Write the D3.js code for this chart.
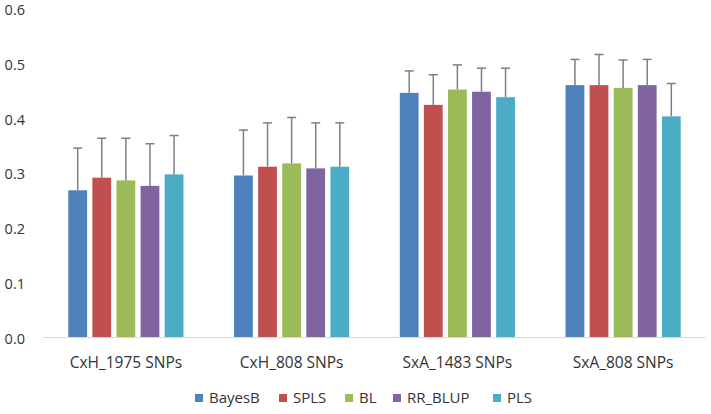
<!DOCTYPE html>
<html><head><meta charset="utf-8">
<script src="https://cdn.jsdelivr.net/npm/d3@7"></script>
<style>body{margin:0;background:#fff}svg{display:block}text{font-family:"Open Sans",sans-serif;fill:#333}</style>
</head><body><svg id="c" width="711" height="414"></svg>
<script>
const categories = ["CxH_1975 SNPs","CxH_808 SNPs","SxA_1483 SNPs","SxA_808 SNPs"];
const seriesNames = ["BayesB","SPLS","BL","RR_BLUP","PLS"];
const colors = ["#4F81BD","#C0504D","#9BBB59","#8064A2","#4BACC6"];
const BayesB = [0.268,0.295,0.446,0.460];
const SPLS   = [0.291,0.311,0.424,0.460];
const BL     = [0.286,0.317,0.452,0.455];
const RR_BLUP= [0.276,0.308,0.448,0.460];
const PLS    = [0.297,0.311,0.438,0.403];
const BayesB_err = [0.077,0.083,0.040,0.047];
const SPLS_err   = [0.072,0.080,0.055,0.056];
const BL_err     = [0.077,0.084,0.045,0.051];
const RR_BLUP_err= [0.077,0.083,0.043,0.047];
const PLS_err    = [0.071,0.080,0.053,0.060];
const yTicks = [0,0.1,0.2,0.3,0.4,0.5,0.6];

const values = [BayesB,SPLS,BL,RR_BLUP,PLS];
const errs = [BayesB_err,SPLS_err,BL_err,RR_BLUP_err,PLS_err];

const svg = d3.select("#c");
const mLeft = 43, mRight = 706, mTop = 8.5, mBottom = 337;
const x0 = d3.scaleBand().domain(categories).range([mLeft,mRight]).paddingInner(0).paddingOuter(0);
const x1 = d3.scaleBand().domain(seriesNames).range([0,x0.bandwidth()]).paddingInner(0.22).paddingOuter(1.05);
const y = d3.scaleLinear().domain([0,0.6]).range([mBottom,mTop]);

svg.append("g").selectAll("text").data(yTicks).join("text")
  .attr("x",25).attr("y",d=>y(d)).attr("dy","0.45em").attr("text-anchor","end")
  .style("font-size","14.5px").text(d=>d.toFixed(1));

const data = [];
categories.forEach((c,i)=>seriesNames.forEach((s,j)=>data.push({c,s,j,v:values[j][i],e:errs[j][i]})));

svg.append("g").selectAll("rect").data(data).join("rect")
  .attr("x",d=>x0(d.c)+x1(d.s)).attr("width",x1.bandwidth())
  .attr("y",d=>y(d.v)).attr("height",d=>y(0)-y(d.v))
  .attr("fill",d=>colors[d.j]);

const eb = svg.append("g").attr("stroke","#7f7f7f").attr("stroke-width",1.5);
data.forEach(d=>{
  const cx = x0(d.c)+x1(d.s)+x1.bandwidth()/2;
  eb.append("line").attr("x1",cx).attr("x2",cx).attr("y1",y(d.v)).attr("y2",y(d.v+d.e));
  eb.append("line").attr("x1",cx-4.5).attr("x2",cx+4.5).attr("y1",y(d.v+d.e)).attr("y2",y(d.v+d.e));
});

svg.append("line").attr("x1",mLeft).attr("x2",mRight).attr("y1",y(0)+0.5).attr("y2",y(0)+0.5)
  .attr("stroke","#d9d9d9").attr("stroke-width",1);

svg.append("g").selectAll("text").data(categories).join("text")
  .attr("x",d=>x0(d)+x0.bandwidth()/2).attr("y",362).attr("dy","0.36em").attr("text-anchor","middle")
  .style("font-size","15.5px").text(d=>d);

const legX = [195,279,345,393,493];
const lg = svg.append("g");
seriesNames.forEach((s,j)=>{
  lg.append("rect").attr("x",legX[j]).attr("y",394).attr("width",8).attr("height",8).attr("fill",colors[j]);
  lg.append("text").attr("x",legX[j]+14).attr("y",398).attr("dy","0.36em").style("font-size","15px").text(s);
});
</script></body></html>
